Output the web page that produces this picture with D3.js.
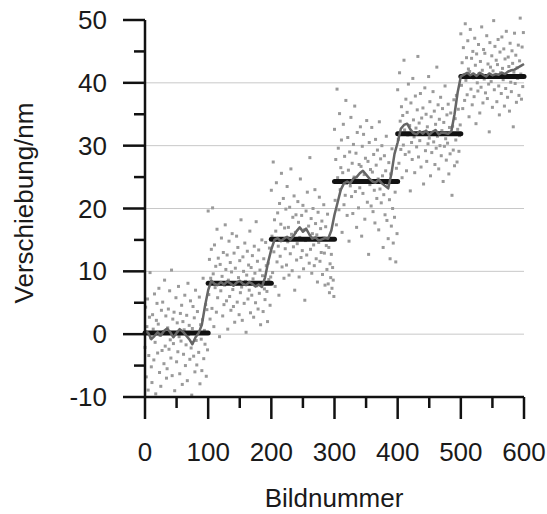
<!DOCTYPE html>
<html><head><meta charset="utf-8">
<script src="https://cdn.jsdelivr.net/npm/d3@7"></script>
<style>html,body{margin:0;padding:0;background:#fff;}</style>
</head><body>
<svg id="chart" width="547" height="514"></svg>
<script>
// Step levels (black segments)
const stepStarts = [0, 100, 200, 300, 400, 500];
const stepEnds = [100, 200, 300, 400, 500, 600];
const stepLevels = [0.2, 8.1, 15.1, 24.3, 31.9, 41.0];

// Scatter points, one per frame, grouped by step
const scatter1 = [-2.1,4.3,-6.8,1.2,5.6,-8.9,-3.4,2.7,9.8,-0.6,-5.2,-7.7,3.1,0.8,-4.1,6.4,-1.3,-9.5,2.2,4.9,-3.0,1.6,7.3,-6.1,-0.2,-8.3,3.8,-2.6,5.1,0.4,-4.7,8.6,-1.9,2.9,-7.0,-5.5,1.0,4.0,-2.4,6.9,-0.9,-3.8,10.2,-6.6,2.4,-1.5,3.5,-9.0,0.2,5.8,-4.4,1.8,-2.8,7.6,-0.4,-6.3,3.3,-1.1,4.6,-8.0,2.0,-3.2,0.7,6.2,-5.0,-1.7,3.0,-7.4,8.1,-0.1,1.4,-4.0,5.3,-2.2,-9.7,0.9,4.4,-3.5,2.6,-6.0,7.0,-1.0,-4.9,3.6,0.3,-2.9,5.9,-7.9,1.5,-0.8,-5.8,2.3,8.9,-3.9,0.6,-1.6,4.7,-6.7,3.9,-2.5];
const scatter2 = [19.6,6.3,11.9,2.4,8.9,13.5,4.1,20.1,9.6,1.2,14.2,7.4,10.8,3.5,16.7,5.8,12.1,8.2,-0.4,11.1,6.9,15.3,9.2,2.9,13.0,4.7,7.8,17.4,10.3,5.3,12.6,0.8,8.6,14.8,6.0,11.4,3.8,9.9,16.0,7.1,4.4,12.9,1.9,10.5,8.0,15.6,5.1,13.8,9.0,3.1,11.7,6.6,18.2,7.5,2.2,12.3,10.0,4.9,14.5,8.4,0.3,9.4,13.2,5.6,11.0,7.0,16.4,3.4,10.6,6.2,12.5,8.8,2.7,14.0,9.7,5.0,17.9,7.7,11.6,4.0,13.4,6.5,10.2,1.5,8.1,15.0,9.3,3.6,12.0,7.2,5.5,14.6,10.9,6.8,2.0,11.3,8.7,13.7,4.6,9.1];
const scatter3 = [22.9,15.6,9.8,27.4,13.1,18.2,7.6,16.4,24.1,11.5,19.3,14.0,6.2,20.8,12.4,17.5,25.6,10.7,15.1,21.6,8.9,16.9,13.6,19.9,11.0,23.5,14.7,17.0,9.4,20.2,12.8,26.3,15.9,10.1,18.6,13.9,22.0,7.0,16.2,19.0,11.8,14.4,21.1,17.8,9.1,15.4,24.7,12.2,18.9,13.3,20.5,10.4,16.6,5.4,14.9,19.6,12.6,22.6,15.2,17.2,11.3,28.1,13.5,18.4,9.7,16.0,20.0,14.2,10.9,23.0,17.6,12.0,15.8,8.3,19.4,14.6,21.8,11.6,16.8,13.0,18.0,9.5,15.3,20.6,12.9,7.8,17.1,14.1,10.3,19.1,8.0,13.8,6.6,11.2,9.0,12.7,7.3,10.6,8.6,6.0];
const scatter4 = [32.6,21.3,27.8,17.4,39.0,24.9,29.6,19.8,35.1,23.0,26.5,30.9,16.2,25.7,33.4,20.6,28.3,22.1,37.2,24.0,18.9,31.3,26.1,14.8,29.0,23.6,34.5,21.9,27.2,19.2,30.2,25.0,36.3,22.7,28.8,17.0,32.1,24.5,20.1,27.0,23.3,33.0,26.7,15.6,29.9,22.4,31.8,25.4,18.3,28.0,24.2,34.0,21.0,27.5,12.7,30.5,23.8,26.2,20.4,32.9,25.8,19.5,28.6,22.9,17.7,31.0,26.9,21.6,29.3,24.7,16.6,33.8,23.1,27.9,20.9,30.0,25.2,13.8,22.2,28.4,19.0,26.0,31.5,18.1,23.9,15.2,27.3,21.4,12.0,25.5,17.2,29.5,20.0,14.5,24.4,18.6,22.6,11.5,26.4,16.0];
const scatter5 = [38.9,31.0,27.2,41.6,33.9,29.4,36.2,24.9,34.8,30.1,43.6,32.5,28.6,37.4,26.0,35.3,31.7,39.8,29.0,33.2,22.8,36.8,30.5,27.8,40.7,34.1,31.4,25.7,37.9,32.8,29.8,35.7,44.2,28.2,33.6,30.8,38.3,26.6,34.4,31.9,36.0,23.9,32.2,39.2,29.2,35.0,27.5,33.0,30.3,41.0,31.2,37.0,25.2,34.6,28.9,32.0,38.6,30.6,35.5,27.0,33.4,29.6,42.5,31.5,36.5,26.3,34.2,30.0,37.7,28.4,32.4,35.9,24.3,33.7,29.9,39.5,31.1,27.7,34.9,30.4,36.6,25.5,32.9,28.7,35.2,31.8,22.1,33.1,29.3,37.3,26.8,34.3,30.9,38.0,27.4,32.6,35.8,29.1,31.6,33.3];
const scatter6 = [47.8,39.6,43.2,35.9,45.6,41.3,37.2,49.4,40.4,44.0,38.1,46.7,42.2,34.6,41.8,48.5,39.0,43.9,36.5,45.0,40.8,37.8,47.1,42.8,33.5,44.6,40.0,38.7,46.1,41.5,35.2,43.4,39.3,48.9,42.0,36.8,45.3,40.6,44.7,38.4,41.1,47.5,37.5,43.0,39.8,32.2,46.4,42.5,40.2,44.3,36.1,41.9,49.9,38.9,45.8,40.9,43.6,37.0,42.9,46.9,39.5,34.9,44.9,41.6,38.3,47.3,42.3,40.5,45.4,36.3,43.8,39.1,48.2,41.0,37.7,44.1,42.6,35.5,46.3,40.1,38.6,45.1,43.1,33.0,41.7,47.9,39.9,44.4,36.9,42.4,40.7,46.0,38.0,43.5,50.3,41.4,37.4,45.7,39.4,48.0];

// Smoothed trace, sampled every 5 frames (0..600)
const traceFrames = d3.range(0, 601, 5);
const traceValues = [0.5,0.2,-0.8,-0.3,0.3,-0.2,0.5,0.9,0.3,-0.5,0.2,0.8,0.4,-0.2,-0.8,-1.6,-0.5,0.2,1.5,4.5,
7.0,8.5,8.0,7.8,8.3,7.9,8.4,8.1,7.7,8.2,8.5,8.0,7.8,8.3,8.0,7.6,7.9,7.5,9.0,11.5,
13.5,15.0,15.3,14.8,15.2,15.5,15.0,15.6,16.4,17.0,16.3,16.8,15.9,15.2,15.4,14.9,15.1,15.3,15.2,16.5,
19.0,21.0,23.0,24.0,24.3,24.0,24.8,25.0,25.6,26.0,25.4,24.8,24.3,24.1,24.6,24.0,23.6,23.2,25.5,28.7,
30.5,32.7,33.3,33.5,32.6,32.0,31.8,32.3,31.9,32.4,31.7,32.2,32.5,31.8,32.1,32.0,31.9,32.3,35.0,38.5,
41.0,41.3,41.6,41.2,41.5,41.1,41.6,41.3,41.0,41.5,41.2,41.4,41.3,41.6,41.4,41.8,42.0,42.1,42.4,42.7,43.0];

const svg = d3.select("#chart");
const x = d3.scaleLinear().domain([0, 600]).range([145, 524]);
const y = d3.scaleLinear().domain([-10, 50]).range([397, 20]);
const font = "Liberation Sans, Arial, sans-serif";
const fs = 26;

// gridlines
svg.append("g").selectAll("line").data([0, 10, 20, 30, 40]).join("line")
  .attr("x1", x(0)).attr("x2", x(600))
  .attr("y1", d => y(d)).attr("y2", d => y(d))
  .attr("stroke", "#c8c8c8").attr("stroke-width", 1);

// scatter
const allScatter = [scatter1, scatter2, scatter3, scatter4, scatter5, scatter6]
  .flatMap((arr, i) => arr.map((v, j) => ({f: stepStarts[i] + j, v})));
svg.append("g").selectAll("rect").data(allScatter).join("rect")
  .attr("x", d => x(d.f) - 1.5).attr("y", d => y(d.v) - 1.5)
  .attr("width", 3).attr("height", 3).attr("fill", "#9a9a9a");

// step segments
svg.append("g").selectAll("line").data(stepLevels).join("line")
  .attr("x1", (d, i) => x(stepStarts[i])).attr("x2", (d, i) => x(stepEnds[i]))
  .attr("y1", d => y(d)).attr("y2", d => y(d))
  .attr("stroke", "#111").attr("stroke-width", 5).attr("stroke-linecap", "round");

// trace
svg.append("path")
  .datum(traceFrames.map((f, i) => [f, traceValues[i]]))
  .attr("d", d3.line().x(d => x(d[0])).y(d => y(d[1])))
  .attr("fill", "none").attr("stroke", "#666").attr("stroke-width", 2.5)
  .attr("stroke-linejoin", "round");

// Y axis
const yAxis = svg.append("g").attr("transform", `translate(${x(0)},0)`);
yAxis.append("line").attr("x1", 0).attr("x2", 0).attr("y1", y(50)).attr("y2", y(-10))
  .attr("stroke", "#111").attr("stroke-width", 2.5);
const yTicks = d3.range(-10, 51, 5);
yAxis.selectAll("line.t").data(yTicks).join("line").attr("class", "t")
  .attr("x1", d => d % 10 === 0 ? -22 : -11).attr("x2", 0)
  .attr("y1", d => y(d)).attr("y2", d => y(d))
  .attr("stroke", "#111").attr("stroke-width", 2.5);
yAxis.selectAll("text").data(d3.range(-10, 51, 10)).join("text")
  .attr("x", -38).attr("y", d => y(d)).attr("dy", "0.35em")
  .attr("text-anchor", "end").attr("font-family", font).attr("font-size", fs)
  .attr("fill", "#1a1a1a").text(d => d);

// X axis
const xAxis = svg.append("g").attr("transform", `translate(0,${y(-10)})`);
xAxis.append("line").attr("x1", x(0)).attr("x2", x(600)).attr("y1", 0).attr("y2", 0)
  .attr("stroke", "#111").attr("stroke-width", 2.5);
xAxis.selectAll("line.t").data(d3.range(0, 601, 50)).join("line").attr("class", "t")
  .attr("x1", d => x(d)).attr("x2", d => x(d))
  .attr("y1", 0).attr("y2", d => d % 100 === 0 ? 22 : 11)
  .attr("stroke", "#111").attr("stroke-width", 2.5);
xAxis.selectAll("text").data(d3.range(0, 601, 100)).join("text")
  .attr("x", d => x(d)).attr("y", 64)
  .attr("text-anchor", "middle").attr("font-family", font).attr("font-size", fs)
  .attr("fill", "#1a1a1a").text(d => d);

// titles
svg.append("text").attr("x", 334).attr("y", 507).attr("text-anchor", "middle")
  .attr("font-family", font).attr("font-size", fs).attr("fill", "#1a1a1a").text("Bildnummer");
svg.append("text").attr("transform", `translate(33,${203}) rotate(-90)`)
  .attr("text-anchor", "middle").attr("font-family", font).attr("font-size", fs)
  .attr("fill", "#1a1a1a").text("Verschiebung/nm");
</script>
</body></html>
